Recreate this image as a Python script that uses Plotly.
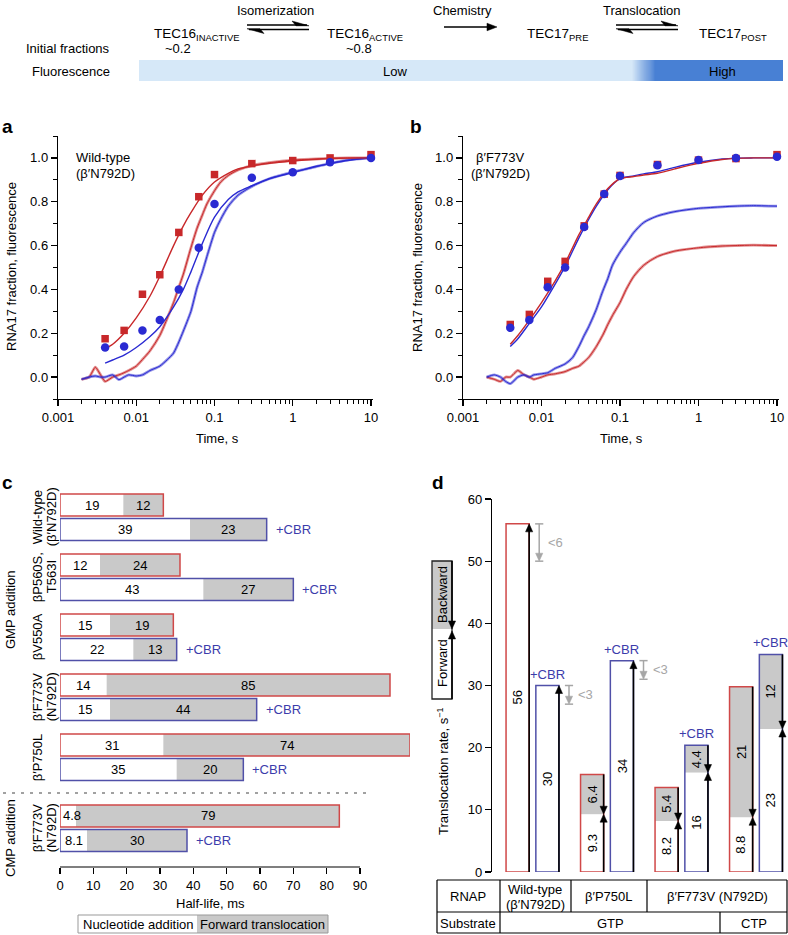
import plotly.graph_objects as go

W, H = 788, 935
FONT = "Liberation Sans, Arial, Helvetica, sans-serif"


def X(px):
    return px / W


def Y(py):
    return 1 - py / H


RED = "#c8282a"
BLUE = "#2a2ad2"
RED_OUT = "#d04848"
BLUE_OUT = "#5050a8"
CBR_COL = "#3c3cab"
GRAY = "#c9c9c9"
LGRAY = "#a6a6a6"

# ---------------- Panel a data ----------------
a_t_pts = [0.004, 0.007, 0.012, 0.02, 0.035, 0.063, 0.1, 0.3, 1, 3, 10]
a_red_pts = [0.175, 0.213, 0.378, 0.467, 0.66, 0.823, 0.924, 0.974, 0.988, 1.0, 1.015]
a_blue_pts = [0.135, 0.14, 0.213, 0.26, 0.40, 0.59, 0.79, 0.91, 0.935, 0.98, 1.0]

fit_t = [0.004, 0.005, 0.007, 0.01, 0.015, 0.02, 0.03, 0.04, 0.05, 0.07, 0.1,
         0.15, 0.2, 0.3, 0.5, 1, 2, 3, 5, 10]
a_red_fit = [0.13, 0.15, 0.20, 0.27, 0.37, 0.46, 0.60, 0.69, 0.75, 0.83, 0.89,
             0.93, 0.95, 0.963, 0.975, 0.986, 0.994, 0.997, 0.999, 1.0]
a_blue_fit = [0.064, 0.078, 0.10, 0.135, 0.185, 0.23, 0.32, 0.40, 0.48, 0.61, 0.73,
              0.81, 0.845, 0.873, 0.905, 0.933, 0.962, 0.974, 0.988, 1.0]

trace_t = [0.002, 0.0025, 0.003, 0.0035, 0.004, 0.005, 0.006, 0.007, 0.008, 0.01,
           0.012, 0.015, 0.02, 0.025, 0.03, 0.035, 0.04, 0.05, 0.06, 0.07, 0.08,
           0.1, 0.12, 0.15, 0.2, 0.3, 0.5, 1, 2, 3, 5, 10]
a_red_trace = [-0.01, 0.0, 0.045, 0.01, -0.02, 0.0, 0.01, 0.02, 0.03, 0.05,
               0.08, 0.12, 0.19, 0.27, 0.34, 0.41, 0.47, 0.59, 0.68, 0.74, 0.79,
               0.85, 0.89, 0.92, 0.945, 0.965, 0.978, 0.99, 0.995, 0.998, 1.0, 1.0]
a_blue_trace = [-0.01, 0.0, 0.005, 0.0, 0.0, 0.01, -0.012, 0.0, 0.01, 0.005,
                0.01, 0.03, 0.05, 0.08, 0.11, 0.16, 0.21, 0.30, 0.41, 0.48, 0.55,
                0.66, 0.72, 0.78, 0.83, 0.87, 0.905, 0.935, 0.96, 0.975, 0.99, 1.0]

# ---------------- Panel b data ----------------
b_t_pts = [0.004, 0.007, 0.012, 0.02, 0.035, 0.063, 0.1, 0.3, 1, 3, 10]
b_red_pts = [0.24, 0.286, 0.437, 0.528, 0.69, 0.835, 0.92, 0.97, 0.99, 0.997, 1.015]
b_blue_pts = [0.225, 0.26, 0.41, 0.50, 0.685, 0.835, 0.918, 0.967, 0.99, 1.0, 1.005]
b_red_fit = [0.15, 0.19, 0.26, 0.34, 0.44, 0.52, 0.65, 0.73, 0.79, 0.86, 0.905,
             0.915, 0.922, 0.93, 0.95, 0.975, 0.993, 0.998, 1.0, 1.0]
b_blue_fit = [0.14, 0.175, 0.245, 0.32, 0.425, 0.505, 0.635, 0.72, 0.78, 0.855, 0.905,
              0.918, 0.927, 0.937, 0.957, 0.98, 0.995, 0.999, 1.0, 1.0]
b_red_trace = [0.0, -0.01, -0.02, 0.0, 0.0, 0.03, 0.01, 0.0, -0.01, 0.0,
               0.01, 0.015, 0.025, 0.04, 0.05, 0.07, 0.09, 0.14, 0.19, 0.24, 0.28,
               0.34, 0.40, 0.46, 0.51, 0.55, 0.575, 0.59, 0.598, 0.6, 0.602, 0.6]
b_blue_trace = [0.0, 0.01, 0.0, -0.02, -0.03, 0.0, 0.01, 0.0, 0.01, 0.015,
                0.02, 0.04, 0.06, 0.09, 0.14, 0.19, 0.23, 0.31, 0.39, 0.45, 0.51,
                0.57, 0.61, 0.66, 0.705, 0.735, 0.755, 0.77, 0.777, 0.78, 0.782, 0.78]

# ---------------- Panel c data ----------------
c_group_lines = [["Wild-type", "(β′N792D)"], ["βP560S,", "T563I"], ["βV550A"],
                 ["β′F773V", "(N792D)"], ["β′P750L"], ["β′F773V", "(N792D)"]]
c_red_add = [19, 12, 15, 14, 31, 4.8]
c_red_trans = [12, 24, 19, 85, 74, 79]
c_blue_add = [39, 43, 22, 15, 35, 8.1]
c_blue_trans = [23, 27, 13, 44, 20, 30]
c_xticks = [0, 10, 20, 30, 40, 50, 60, 70, 80, 90]

# ---------------- Panel d data ----------------
d_forward = [56, 30, 9.3, 34, 8.2, 16, 8.8, 23]
d_backward = [0, 0, 6.4, 0, 5.4, 4.4, 21, 12]
d_back_bound = [6, 3, None, 3, None, None, None, None]
d_cbr = [False, True, False, True, False, True, False, True]
d_yticks = [0, 10, 20, 30, 40, 50, 60]

fig = go.Figure()


def txt(size=13, color="black"):
    return dict(family=FONT, size=size, color=color)


# ---------- panels a, b -------------
def add_kinetics(xa, ya, red_pts, blue_pts, red_fit, blue_fit, red_tr, blue_tr, t_pts):
    for tr, col, rgba in [(red_tr, RED, "rgba(200,40,42,0.5)"), (blue_tr, BLUE, "rgba(42,42,210,0.5)")]:
        fig.add_trace(go.Scatter(x=trace_t, y=tr, mode="lines", line=dict(color=rgba, width=2.8, shape="spline", smoothing=0.6),
                                 xaxis=xa, yaxis=ya, showlegend=False, hoverinfo="skip"))
        fig.add_trace(go.Scatter(x=trace_t, y=tr, mode="lines", line=dict(color=col, width=1.0, shape="spline", smoothing=0.6),
                                 xaxis=xa, yaxis=ya, showlegend=False, hoverinfo="skip"))
    for fit, col in [(blue_fit, BLUE), (red_fit, RED)]:
        fig.add_trace(go.Scatter(x=fit_t, y=fit, mode="lines", line=dict(color=col, width=1.4, shape="spline", smoothing=0.8),
                                 xaxis=xa, yaxis=ya, showlegend=False, hoverinfo="skip"))
    fig.add_trace(go.Scatter(x=t_pts, y=red_pts, mode="markers", marker=dict(symbol="square", size=7.5, color=RED),
                             xaxis=xa, yaxis=ya, showlegend=False, cliponaxis=False))
    fig.add_trace(go.Scatter(x=t_pts, y=blue_pts, mode="markers", marker=dict(symbol="circle", size=8.5, color=BLUE),
                             xaxis=xa, yaxis=ya, showlegend=False, cliponaxis=False))


add_kinetics("x", "y", a_red_pts, a_blue_pts, a_red_fit, a_blue_fit, a_red_trace, a_blue_trace, a_t_pts)
add_kinetics("x2", "y2", b_red_pts, b_blue_pts, b_red_fit, b_blue_fit, b_red_trace, b_blue_trace, b_t_pts)

# ---------- panel c -------------
c_pos = [0, 1, 2, 3, 4, 5.183]
off = 0.408
bw = 0.367
red_y = [p for p in c_pos]
blue_y = [p + off for p in c_pos]
for ys, add, trans, outc in [(red_y, c_red_add, c_red_trans, RED_OUT), (blue_y, c_blue_add, c_blue_trans, BLUE_OUT)]:
    fig.add_trace(go.Bar(y=ys, x=add, base=[0] * len(add), orientation="h", width=bw,
                         marker=dict(color="white", line=dict(width=0)), xaxis="x3", yaxis="y3", showlegend=False))
    fig.add_trace(go.Bar(y=ys, x=trans, base=add, orientation="h", width=bw,
                         marker=dict(color=GRAY, line=dict(width=0)), xaxis="x3", yaxis="y3", showlegend=False))
    tot = [a + b for a, b in zip(add, trans)]
    fig.add_trace(go.Bar(y=ys, x=tot, base=[0] * len(add), orientation="h", width=bw,
                         marker=dict(color="rgba(0,0,0,0)", line=dict(width=1.5, color=outc)),
                         xaxis="x3", yaxis="y3", showlegend=False))

annotations = []
shapes = []


def ann(text, x, y, size=13, color="black", xanchor="center", yanchor="middle", angle=0, bold=False, **kw):
    d = dict(text=text, x=X(x), y=Y(y), xref="paper", yref="paper", showarrow=False,
             xanchor=xanchor, yanchor=yanchor, textangle=angle, font=txt(size, color))
    d.update(kw)
    if bold:
        d["text"] = "<b>" + text + "</b>"
    annotations.append(d)


def dann(text, x, y, xref, yref, xanchor="center", yanchor="middle", color="black", **kw):
    d = dict(text=text, x=x, y=y, xref=xref, yref=yref, showarrow=False, xanchor=xanchor, yanchor=yanchor,
             font=txt(13, color))
    d.update(kw)
    annotations.append(d)


def arrow_shape(x_tail, y_tail, x_head, y_head, xref, yref, sx, sy, color="black", width=1.6, hl=8.0, hw=3.6):
    """Arrow drawn as line + filled triangle. sx, sy: data units per pixel (sy>0 means up)."""
    dxp = (x_head - x_tail) / sx
    dyp = (y_head - y_tail) / sy
    n = (dxp ** 2 + dyp ** 2) ** 0.5
    ux, uy = dxp / n, dyp / n
    px_, py_ = -uy, ux
    bx = x_head - ux * hl * sx
    by = y_head - uy * hl * sy
    lx = x_head - ux * hl * 0.6 * sx
    ly = y_head - uy * hl * 0.6 * sy
    shapes.append(dict(type="line", xref=xref, yref=yref, x0=x_tail, y0=y_tail, x1=lx, y1=ly,
                       line=dict(color=color, width=width)))
    pts = [(x_head, y_head), (bx + px_ * hw * sx, by + py_ * hw * sy), (bx - px_ * hw * sx, by - py_ * hw * sy)]
    path = "M " + " L ".join(f"{a:.6f},{b:.6f}" for a, b in pts) + " Z"
    shapes.append(dict(type="path", xref=xref, yref=yref, path=path, fillcolor=color,
                       line=dict(color=color, width=0.5)))


px_per_ms = 350 / 105.0
for ys, add, trans in [(red_y, c_red_add, c_red_trans), (blue_y, c_blue_add, c_blue_trans)]:
    for yy, a, t in zip(ys, add, trans):
        lab_a = f"{a:g}"
        if a * px_per_ms < 26:
            dann(lab_a, 0, yy, "x3", "y3", xanchor="left", xshift=1)
        else:
            dann(lab_a, a / 2, yy, "x3", "y3")
        dann(f"{t:g}", a + t / 2, yy, "x3", "y3")
for yy, a, t in zip(blue_y, c_blue_add, c_blue_trans):
    dann("+CBR", a + t, yy, "x3", "y3", xanchor="left", xshift=7, color=CBR_COL)
for p, lines in zip(c_pos, c_group_lines):
    cy = p + off / 2
    dann(lines[0], X(37), cy, "paper", "y3", textangle=-90)
    if len(lines) > 1:
        dann(lines[1], X(51), cy, "paper", "y3", textangle=-90)
ann("GMP addition", 10, 610, angle=-90)
ann("CMP addition", 10, 838, angle=-90)
ann("Half-life, ms", 210, 903)
ann("Nucleotide addition", 138, 924)
ann("Forward translocation", 262, 924)

# ---------- panel d -------------
d_pos = [-0.2, 0.2, 0.8, 1.2, 1.8, 2.2, 2.8, 3.2]
dw = 0.31
d_xrange = [-0.5436, 3.4295]
d_yrange = [0, 60]
SX = (d_xrange[1] - d_xrange[0]) / (788 - 492)
SY = (d_yrange[1] - d_yrange[0]) / (872 - 499)
d_tot = [f + b for f, b in zip(d_forward, d_backward)]
fig.add_trace(go.Bar(x=d_pos, y=d_forward, base=[0] * 8, width=dw, marker=dict(color="white", line=dict(width=0)),
                     xaxis="x4", yaxis="y4", showlegend=False))
fig.add_trace(go.Bar(x=d_pos, y=d_backward, base=d_forward, width=dw, marker=dict(color=GRAY, line=dict(width=0)),
                     xaxis="x4", yaxis="y4", showlegend=False))
fig.add_trace(go.Bar(x=d_pos, y=d_tot, base=[0] * 8, width=dw,
                     marker=dict(color="rgba(0,0,0,0)", line=dict(width=1.5, color=[BLUE_OUT if c else RED_OUT for c in d_cbr])),
                     xaxis="x4", yaxis="y4", showlegend=False))

for p, f, b, bound, cbr in zip(d_pos, d_forward, d_backward, d_back_bound, d_cbr):
    xr = p + dw / 2
    arrow_shape(xr, 0, xr, f, "x4", "y4", SX, SY)
    dann(f"{f:g}", p, f / 2, "x4", "y4", textangle=-90)
    if b > 0:
        arrow_shape(xr, f + b, xr, f, "x4", "y4", SX, SY)
        dann(f"{b:g}", p, f + b / 2, "x4", "y4", textangle=-90)
    if bound is not None:
        gx = xr + 0.135
        top = f
        bot = f - bound
        arrow_shape(gx, top, gx, bot, "x4", "y4", SX, SY, color=LGRAY, width=1.5)
        for yy in (top, bot):
            shapes.append(dict(type="line", xref="x4", yref="y4", x0=gx - 0.055, x1=gx + 0.055, y0=yy, y1=yy,
                               line=dict(color=LGRAY, width=1.5)))
        dann(f"<{bound:g}", gx, (top + bot) / 2, "x4", "y4", xanchor="left", xshift=7, color=LGRAY)
    if cbr:
        dann("+CBR", p, f + b, "x4", "y4", yanchor="bottom", yshift=2, color=CBR_COL)

ann("Translocation rate, s<sup>−1</sup>", 443, 771, angle=-90)

# legend in d
PX, PY = 1.0 / W, -1.0 / H
shapes.append(dict(type="rect", xref="paper", yref="paper", x0=X(432), x1=X(452), y0=Y(629), y1=Y(561),
                   fillcolor=GRAY, line=dict(width=0), layer="above"))
shapes.append(dict(type="rect", xref="paper", yref="paper", x0=X(432), x1=X(452), y0=Y(699), y1=Y(561),
                   fillcolor="rgba(0,0,0,0)", line=dict(width=1.3, color="#222222")))
ann("Backward", 442, 594, angle=-90)
ann("Forward", 442, 663, angle=-90)
arrow_shape(X(452), Y(561), X(452), Y(629), "paper", "paper", 1.0 / W, 1.0 / H)
arrow_shape(X(452), Y(699), X(452), Y(631), "paper", "paper", 1.0 / W, 1.0 / H)


def pline(x0, y0, x1, y1, color="black", width=1.2, dash=None):
    ln = dict(color=color, width=width)
    if dash:
        ln["dash"] = dash
    shapes.append(dict(type="line", xref="paper", yref="paper", x0=X(x0), y0=Y(y0), x1=X(x1), y1=Y(y1), line=ln))


# table in d
pline(437, 880, 787, 880)
pline(437, 912, 787, 912)
pline(437, 933, 787, 933)
pline(437, 880, 437, 933)
pline(787, 880, 787, 933)
pline(500, 880, 500, 933)
pline(571, 880, 571, 912)
pline(647, 880, 647, 912)
pline(720, 912, 720, 933)
ann("RNAP", 468, 896)
ann("Wild-type", 535, 889)
ann("(β′N792D)", 535, 904)
ann("β′P750L", 609, 896)
ann("β′F773V (N792D)", 717, 896)
ann("Substrate", 468, 923)
ann("GTP", 610, 923)
ann("CTP", 754, 923)

# c extras: axis line, dashed separator, legend boxes
shapes.append(dict(type="line", xref="x3", yref="y3 domain", x0=0, x1=90, y0=0, y1=0, line=dict(color="black", width=1.2)))
pline(3, 793, 372, 793, color="#444444", width=1.2, dash="3px,6px")
shapes.append(dict(type="rect", xref="paper", yref="paper", x0=X(197), x1=X(328), y0=Y(933), y1=Y(915),
                   fillcolor=GRAY, line=dict(width=0)))
shapes.append(dict(type="rect", xref="paper", yref="paper", x0=X(78), x1=X(328), y0=Y(933), y1=Y(915),
                   fillcolor="rgba(0,0,0,0)", line=dict(width=1, color="#999999")))

# ---------- top scheme -------------
ann("Isomerization", 275, 10)
ann("Chemistry", 463, 10)
ann("Translocation", 642, 10)
ann("TEC16<sub>INACTIVE</sub>", 152, 34, xanchor="left", size=13.5)
ann("TEC16<sub>ACTIVE</sub>", 325, 34, xanchor="left", size=13.5)
ann("TEC17<sub>PRE</sub>", 525, 34, xanchor="left", size=13.5)
ann("TEC17<sub>POST</sub>", 697, 34, xanchor="left", size=13.5)
ann("Initial fractions", 112, 49, xanchor="right")
ann("~0.2", 178, 48)
ann("~0.8", 359, 48)
ann("Fluorescence", 112, 71, xanchor="right")


def ppath(pts):
    return "M " + " L ".join(f"{X(a):.5f},{Y(b):.5f}" for a, b in pts) + " Z"


for x0, x1 in [(247, 309), (616, 678)]:
    pline(x0, 25, x1 - 2, 25, width=1.6)
    pline(x0 + 2, 29.5, x1, 29.5, width=1.6)
    shapes.append(dict(type="path", xref="paper", yref="paper", path=ppath([(x1, 25.8), (x1 - 17, 21), (x1 - 13, 25.8)]),
                       fillcolor="black", line=dict(width=0.5, color="black")))
    shapes.append(dict(type="path", xref="paper", yref="paper", path=ppath([(x0, 28.7), (x0 + 17, 33.5), (x0 + 13, 28.7)]),
                       fillcolor="black", line=dict(width=0.5, color="black")))
arrow_shape(X(444), Y(27), X(497), Y(27), "paper", "paper", 1.0 / W, 1.0 / H, hl=10, hw=3.8)

# fluorescence bar
light = (214, 232, 248)
dark = (72, 128, 212)
shapes.append(dict(type="rect", xref="paper", yref="paper", x0=X(139), x1=X(633), y0=Y(81), y1=Y(60),
                   fillcolor="rgb(%d,%d,%d)" % light, line=dict(width=0), layer="below"))
nstep = 24
for i in range(nstep):
    f = (i + 0.5) / nstep
    c = tuple(int(light[k] + (dark[k] - light[k]) * f) for k in range(3))
    xa = 632 + 23 * i / nstep
    xb = 632 + 23 * (i + 1) / nstep + 0.6
    shapes.append(dict(type="rect", xref="paper", yref="paper", x0=X(xa), x1=X(xb), y0=Y(81), y1=Y(60),
                       fillcolor="rgb(%d,%d,%d)" % c, line=dict(width=0), layer="below"))
shapes.append(dict(type="rect", xref="paper", yref="paper", x0=X(655), x1=X(783), y0=Y(81), y1=Y(60),
                   fillcolor="rgb(%d,%d,%d)" % dark, line=dict(width=0), layer="below"))
ann("Low", 395, 71)
ann("High", 722, 71)

# ---------- panel a/b texts -------------
ann("a", 8, 126, size=19, bold=True)
ann("b", 416, 126, size=19, bold=True)
ann("c", 8, 482, size=19, bold=True)
ann("d", 438, 482, size=19, bold=True)
ann("Wild-type", 74, 157, xanchor="left")
ann("(β′N792D)", 74, 173, xanchor="left")
ann("β′F773V", 500, 157)
ann("(β′N792D)", 500, 173)
ann("RNA17 fraction, fluorescence", 11, 267, angle=-90)
ann("RNA17 fraction, fluorescence", 417, 267, angle=-90)
ann("Time, s", 217, 438)
ann("Time, s", 621, 438)

# ---------- axes -------------
tickfont = txt(13)
base_ax = dict(showgrid=False, zeroline=False, showline=True, linecolor="black", linewidth=1.2, automargin=False,
               ticks="outside", ticklen=6, tickwidth=1.2, tickcolor="black", tickfont=tickfont)
log_major = [0.001, 0.01, 0.1, 1, 10]
log_text = ["0.001", "0.01", "0.1", "1", "10"]
log_minor = [m * 10 ** e for e in (-3, -2, -1, 0) for m in range(2, 10)]
y_major = [0, 0.2, 0.4, 0.6, 0.8, 1.0]
y_text = ["0.0", "0.2", "0.4", "0.6", "0.8", "1.0"]
y_minor = [-0.1, 0.1, 0.3, 0.5, 0.7, 0.9, 1.1]
minor_x = dict(tickvals=log_minor, ticks="outside", ticklen=3.5, tickwidth=1, tickcolor="black", showgrid=False)
minor_y = dict(tickvals=y_minor, ticks="outside", ticklen=3.5, tickwidth=1, tickcolor="black", showgrid=False)

fig.update_layout(
    template="none",
    width=W, height=H, autosize=False, margin=dict(l=0, r=0, t=0, b=0, pad=0, autoexpand=False),
    paper_bgcolor="white", plot_bgcolor="rgba(0,0,0,0)",
    font=txt(13),
    barmode="overlay", showlegend=False,
    xaxis=dict(domain=[X(58), X(373)], type="log", range=[-3, 1.0256], anchor="y",
               tickvals=log_major, ticktext=log_text, minor=minor_x, **base_ax),
    yaxis=dict(domain=[Y(399), Y(136)], range=[-0.1, 1.1], anchor="x",
               tickvals=y_major, ticktext=y_text, minor=minor_y, **base_ax),
    xaxis2=dict(domain=[X(463), X(779)], type="log", range=[-3, 1.0255], anchor="y2",
                tickvals=log_major, ticktext=log_text, minor=minor_x, **base_ax),
    yaxis2=dict(domain=[Y(399), Y(136)], range=[-0.1, 1.1], anchor="x2",
                tickvals=y_major, ticktext=y_text, minor=minor_y, **base_ax),
    xaxis3=dict(domain=[X(60), X(410)], range=[0, 105], anchor="y3", tickvals=c_xticks, automargin=False,
                showgrid=False, zeroline=False, showline=False, ticks="outside", ticklen=6, tickwidth=1.2,
                tickcolor="black", tickfont=tickfont),
    yaxis3=dict(domain=[Y(867), Y(480)], range=[6.0333, -0.4167], anchor="x3", visible=False, automargin=False),
    xaxis4=dict(domain=[X(492), 1.0], range=d_xrange, anchor="y4", visible=False, automargin=False),
    yaxis4=dict(domain=[Y(872), Y(499)], range=d_yrange, anchor="x4", tickvals=d_yticks, **base_ax),
    annotations=annotations, shapes=shapes,
)

fig.write_html("out.html", config={"displayModeBar": False, "staticPlot": True},
               post_script="document.body.style.margin='0px';document.body.style.overflow='hidden';")
